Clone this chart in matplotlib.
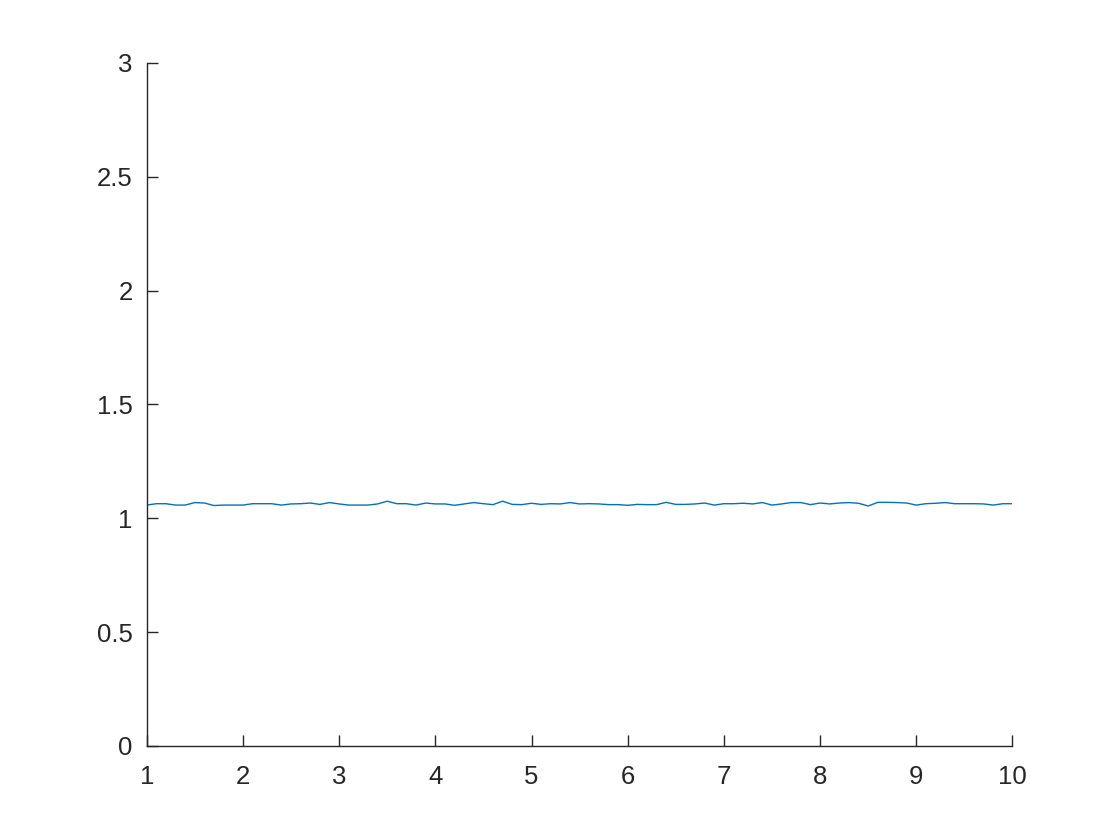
import numpy as np
import matplotlib.pyplot as plt

# x sampled every 0.1 from 1 to 10
x = np.round(np.arange(1.0, 10.0001, 0.1), 1)
y = [
    1.058, 1.064, 1.064, 1.058, 1.058, 1.069, 1.067, 1.056, 1.058, 1.058,
    1.058, 1.064, 1.064, 1.064, 1.058, 1.063, 1.064, 1.067, 1.061, 1.069,
    1.063, 1.058, 1.058, 1.058, 1.063, 1.075, 1.064, 1.064, 1.058, 1.067,
    1.063, 1.063, 1.057, 1.063, 1.069, 1.064, 1.060, 1.075, 1.061, 1.060,
    1.066, 1.061, 1.064, 1.063, 1.069, 1.063, 1.064, 1.063, 1.060, 1.060,
    1.057, 1.061, 1.060, 1.060, 1.070, 1.061, 1.061, 1.063, 1.067, 1.058,
    1.064, 1.064, 1.066, 1.063, 1.069, 1.058, 1.063, 1.069, 1.069, 1.060,
    1.067, 1.063, 1.067, 1.069, 1.066, 1.054, 1.070, 1.070, 1.069, 1.067,
    1.058, 1.064, 1.066, 1.069, 1.064, 1.064, 1.064, 1.063, 1.058, 1.064,
    1.064,
]

xticks = [1, 2, 3, 4, 5, 6, 7, 8, 9, 10]
yticks = [0, 0.5, 1, 1.5, 2, 2.5, 3]
ytick_labels = ["0", "0.5", "1", "1.5", "2", "2.5", "3"]

plt.rcParams['font.family'] = ['Liberation Sans', 'DejaVu Sans']
axis_col = (0.15, 0.15, 0.15)

fig = plt.figure(figsize=(11.2, 8.4), dpi=100)
ax = fig.add_axes([0.131, 0.112, 0.773, 0.813])
ax.plot(x, y, color=(0, 0.447, 0.741), linewidth=1.0)

ax.set_xlim(1, 10)
ax.set_ylim(0, 3)
ax.set_xticks(xticks)
ax.set_yticks(yticks)
ax.set_yticklabels(ytick_labels)

for side in ['top', 'right']:
    ax.spines[side].set_visible(False)
for side in ['left', 'bottom']:
    ax.spines[side].set_color(axis_col)
    ax.spines[side].set_linewidth(1.0)

ax.tick_params(direction='in', length=8, width=1.0, colors=axis_col,
               labelsize=18.5, labelcolor=axis_col)
ax.tick_params(axis='y', pad=10)
ax.tick_params(axis='x', pad=14)

fig.savefig("out.png", dpi=100)
